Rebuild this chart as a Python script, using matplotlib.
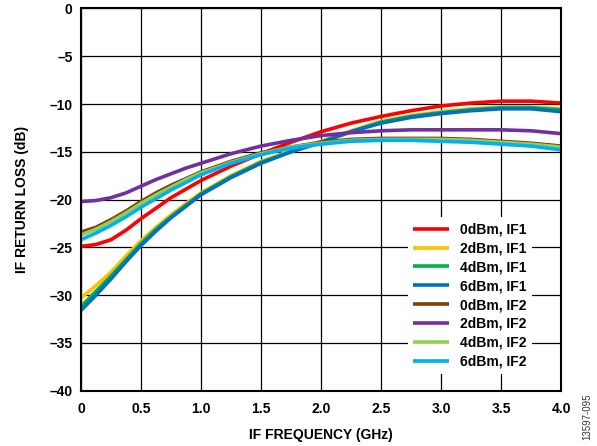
import numpy as np
import matplotlib
matplotlib.use("Agg")
import matplotlib.pyplot as plt

plt.rcParams['font.family'] = ['Liberation Sans', 'DejaVu Sans']

# frequency points (GHz)
freq = [0, 0.125, 0.25, 0.375, 0.5, 0.625, 0.75, 0.875, 1.0,
        1.25, 1.5, 1.75, 2.0, 2.25, 2.5, 2.75, 3.0, 3.25, 3.5, 3.75, 4.0]

# return loss (dB) per drive level / IF port
rl_0dbm_if1 = [-24.9, -24.7, -24.2, -23.2, -22.0, -20.9, -19.8, -18.9, -18.0,
               -16.5, -15.2, -14.0, -12.9, -12.0, -11.3, -10.7, -10.2, -9.9, -9.7, -9.7, -9.9]
rl_2dbm_if1 = [-30.3, -29.0, -27.6, -25.9, -24.3, -22.9, -21.6, -20.4, -19.3,
               -17.5, -16.0, -14.9, -13.9, -12.8, -11.8, -11.2, -10.8, -10.5, -10.3, -10.3, -10.5]
rl_4dbm_if1 = [-31.2, -29.6, -28.0, -26.3, -24.6, -23.1, -21.8, -20.6, -19.4,
               -17.6, -16.1, -15.0, -14.0, -12.9, -11.9, -11.3, -10.9, -10.6, -10.4, -10.4, -10.6]
rl_6dbm_if1 = [-31.6, -30.0, -28.3, -26.5, -24.8, -23.3, -21.9, -20.7, -19.5,
               -17.7, -16.2, -15.0, -14.0, -12.9, -12.0, -11.4, -11.0, -10.7, -10.5, -10.5, -10.8]
rl_0dbm_if2 = [-23.4, -22.9, -22.1, -21.2, -20.2, -19.3, -18.5, -17.8, -17.1,
               -16.0, -15.1, -14.5, -14.0, -13.7, -13.6, -13.6, -13.6, -13.7, -13.9, -14.1, -14.4]
rl_2dbm_if2 = [-20.2, -20.1, -19.8, -19.3, -18.6, -17.9, -17.3, -16.7, -16.2,
               -15.2, -14.4, -13.8, -13.3, -13.0, -12.8, -12.7, -12.7, -12.7, -12.7, -12.8, -13.1]
rl_4dbm_if2 = [-23.7, -23.1, -22.3, -21.4, -20.4, -19.5, -18.7, -17.9, -17.2,
               -16.1, -15.2, -14.5, -14.1, -13.8, -13.7, -13.7, -13.7, -13.8, -14.0, -14.2, -14.5]
rl_6dbm_if2 = [-24.2, -23.5, -22.7, -21.8, -20.8, -19.9, -19.0, -18.2, -17.4,
               -16.2, -15.3, -14.6, -14.2, -13.9, -13.8, -13.8, -13.9, -14.0, -14.2, -14.4, -14.8]

labels = ['0dBm, IF1', '2dBm, IF1', '4dBm, IF1', '6dBm, IF1',
          '0dBm, IF2', '2dBm, IF2', '4dBm, IF2', '6dBm, IF2']
colors = ['#FF0000', '#FFC000', '#00B050', '#0070C0',
          '#843C0C', '#7030A0', '#92D050', '#00B0F0']
series = [rl_0dbm_if1, rl_2dbm_if1, rl_4dbm_if1, rl_6dbm_if1,
          rl_0dbm_if2, rl_2dbm_if2, rl_4dbm_if2, rl_6dbm_if2]

xticks = [0, 0.5, 1.0, 1.5, 2.0, 2.5, 3.0, 3.5, 4.0]
xticklabels = ['0', '0.5', '1.0', '1.5', '2.0', '2.5', '3.0', '3.5', '4.0']
yticks = [0, -5, -10, -15, -20, -25, -30, -35, -40]

fig = plt.figure(figsize=(5.97, 4.46), dpi=100)
ax = fig.add_axes([0.1357, 0.124, 0.804, 0.857])

for vals, c, lab in zip(series, colors, labels):
    ax.plot(freq, vals, color=c, lw=2.6, label=lab, solid_capstyle='butt')

ax.set_xlim(0, 4.0)
ax.set_ylim(-40, 0)
ax.set_xticks(xticks)
ax.set_xticklabels(xticklabels)
ax.set_yticks(yticks)
ax.set_yticklabels(['0' if v == 0 else '\u2013' + str(-v) for v in yticks])
ax.grid(True, color='black', lw=0.9)
ax.tick_params(length=0, labelsize=10, pad=6)
ax.tick_params(axis='x', pad=8)
for t in ax.get_xticklabels() + ax.get_yticklabels():
    t.set_fontweight('bold')
for s in ax.spines.values():
    s.set_linewidth(1.5)

ax.set_xlabel('IF FREQUENCY (GHz)', fontsize=10, fontweight='bold', labelpad=9)
ax.set_ylabel('IF RETURN LOSS (dB)', fontsize=10, fontweight='bold', labelpad=15)

leg = ax.legend(loc='lower right', bbox_to_anchor=(0.955, 0.025),
                prop={'weight': 'bold', 'size': 10}, frameon=True, fancybox=False,
                framealpha=1, edgecolor='none', handlelength=2.6, labelspacing=0.35,
                borderpad=0.4, handletextpad=0.8)
leg.get_frame().set_linewidth(0)

fig.text(0.984, 0.065, '13597-095', rotation=90, fontsize=7, color='#333333',
         ha='center', va='center')

fig.savefig('out.png', dpi=100)
